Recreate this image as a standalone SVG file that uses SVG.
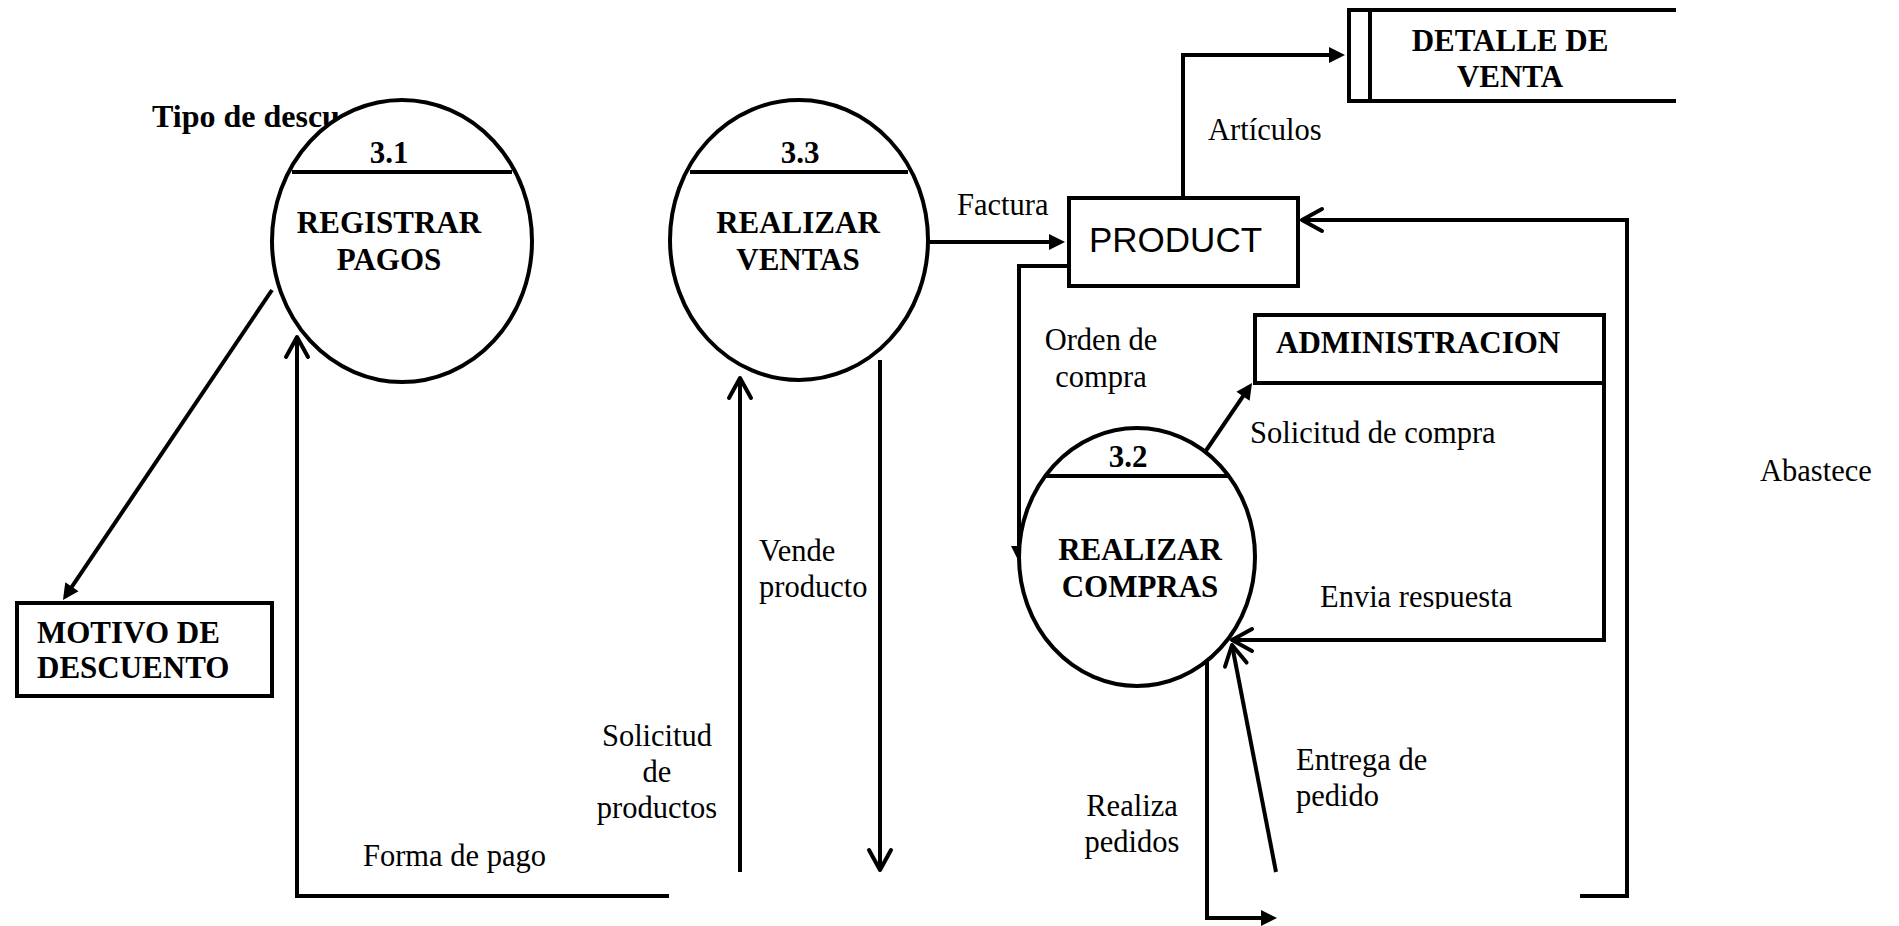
<svg xmlns="http://www.w3.org/2000/svg" width="1899" height="926" viewBox="0 0 1899 926">
<style>
.shape{fill:#fff;stroke:#000;stroke-width:4}
.ln{fill:none;stroke:#000;stroke-width:4;stroke-linejoin:miter;stroke-linecap:butt}
.b{font-family:"Liberation Serif","Times New Roman",serif;font-weight:bold;font-size:31px;fill:#000}
.r{font-family:"Liberation Serif","Times New Roman",serif;font-size:30.5px;fill:#000}
.s{font-family:"Liberation Sans",Arial,sans-serif;font-size:35px;fill:#000}
.fa{marker-end:url(#filled)}
.oa{marker-end:url(#open)}
</style>
<defs>
<marker id="filled" viewBox="0 0 16 16" refX="12" refY="8" markerWidth="16" markerHeight="16" markerUnits="userSpaceOnUse" orient="auto" overflow="visible">
<path d="M0,0 L16,8 L0,16 z" fill="#000"/>
</marker>
<marker id="open" viewBox="0 0 24 24" refX="20" refY="12" markerWidth="24" markerHeight="24" markerUnits="userSpaceOnUse" orient="auto" overflow="visible">
<path d="M0,1 L20,12 L0,23" fill="none" stroke="#000" stroke-width="4" stroke-linecap="round" stroke-linejoin="round"/>
</marker>
<clipPath id="envClip"><rect x="1300" y="560" width="320" height="49"/></clipPath>
</defs>
<rect width="1899" height="926" fill="#fff"/>

<g id="connectors">
<path class="ln fa" d="M272,290 L65.2,596.7"/>
<path class="ln fa" d="M928,242 L1061,242"/>
<path class="ln fa" d="M1183,196 L1183,55 L1341,55"/>
<path class="ln fa" d="M1067,266 L1019,266 L1019,558"/>
<path class="ln fa" d="M1203,455 L1249.75,386.3"/>
<path class="ln fa" d="M1207,662 L1207,918 L1273,918"/>
<path class="ln oa" d="M1580,896 L1627,896 L1627,220 L1302,220"/>
<path class="ln oa" d="M669,896 L297,896 L297,337"/>
<path class="ln oa" d="M740,872 L740,378"/>
<path class="ln oa" d="M880,360 L880,870"/>
<path class="ln oa" d="M1604,383 L1604,640 L1232,640"/>
<path class="ln oa" d="M1276,872 L1232,645"/>
</g>

<g id="labels">
<text class="b" x="152" y="127" style="font-size:32px">Tipo de descu</text>
<text class="r" x="957" y="215">Factura</text>
<text class="r" x="1208" y="140">Artículos</text>
<text class="r" x="1101" y="350" text-anchor="middle">Orden de</text>
<text class="r" x="1101" y="387" text-anchor="middle">compra</text>
<text class="r" x="1250" y="443">Solicitud de compra</text>
<text class="r" x="1320" y="607" clip-path="url(#envClip)">Envia respuesta</text>
<text class="r" x="1760" y="481">Abastece</text>
<text class="r" x="1296" y="770">Entrega de</text>
<text class="r" x="1296" y="806">pedido</text>
<text class="r" x="1132" y="816" text-anchor="middle">Realiza</text>
<text class="r" x="1132" y="852" text-anchor="middle">pedidos</text>
<text class="r" x="759" y="561">Vende</text>
<text class="r" x="759" y="597">producto</text>
<text class="r" x="657" y="746" text-anchor="middle">Solicitud</text>
<text class="r" x="657" y="782" text-anchor="middle">de</text>
<text class="r" x="657" y="818" text-anchor="middle">productos</text>
<text class="r" x="363" y="866">Forma de pago</text>
</g>

<g id="p31">
<ellipse class="shape" cx="402" cy="241" rx="130" ry="141"/>
<line class="ln" x1="292" y1="172" x2="512" y2="172"/>
<text class="b" x="389" y="163" text-anchor="middle">3.1</text>
<text class="b" x="389" y="233" text-anchor="middle">REGISTRAR</text>
<text class="b" x="389" y="270" text-anchor="middle">PAGOS</text>
</g>

<g id="p33">
<ellipse class="shape" cx="799" cy="240" rx="129" ry="140"/>
<line class="ln" x1="690" y1="172" x2="908" y2="172"/>
<text class="b" x="800" y="163" text-anchor="middle">3.3</text>
<text class="b" x="798" y="233" text-anchor="middle">REALIZAR</text>
<text class="b" x="798" y="270" text-anchor="middle">VENTAS</text>
</g>

<g id="p32">
<ellipse class="shape" cx="1137" cy="557" rx="118" ry="129"/>
<line class="ln" x1="1045" y1="476" x2="1229" y2="476"/>
<text class="b" x="1128" y="467" text-anchor="middle">3.2</text>
<text class="b" x="1140" y="560" text-anchor="middle">REALIZAR</text>
<text class="b" x="1140" y="597" text-anchor="middle">COMPRAS</text>
</g>

<g id="product">
<rect class="shape" x="1069" y="198" width="229" height="88"/>
<text class="s" x="1089" y="252">PRODUCT</text>
</g>

<g id="detalle">
<path class="ln" d="M1676,10 L1349,10 L1349,101 L1676,101"/>
<line class="ln" x1="1370" y1="10" x2="1370" y2="101"/>
<text class="b" x="1510" y="51" text-anchor="middle">DETALLE DE</text>
<text class="b" x="1510" y="87" text-anchor="middle">VENTA</text>
</g>

<g id="admin">
<rect class="shape" x="1255" y="315" width="349" height="68"/>
<text class="b" x="1276" y="353">ADMINISTRACION</text>
</g>

<g id="motivo">
<rect class="shape" x="17" y="603" width="255" height="93"/>
<text class="b" x="37" y="643">MOTIVO DE</text>
<text class="b" x="37" y="678">DESCUENTO</text>
</g>
</svg>
